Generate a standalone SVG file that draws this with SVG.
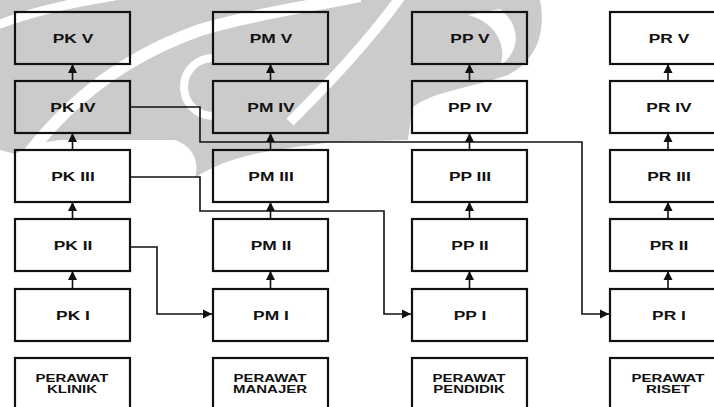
<svg xmlns="http://www.w3.org/2000/svg" width="714" height="407" viewBox="0 0 714 407">
<style>
.bx{fill:none;stroke:#111;stroke-width:2.2}
.t{font-family:"Liberation Sans",Arial,sans-serif;font-weight:bold;font-size:12px;fill:#111;text-anchor:middle}
.s{font-family:"Liberation Sans",Arial,sans-serif;font-weight:bold;font-size:10px;fill:#111;text-anchor:middle}
.ln{fill:none;stroke:#111;stroke-width:1.6}
.wm{fill:#cbcbcb}
.ww{fill:none;stroke:#fff}
</style>
<defs>
<marker id="ah" markerUnits="userSpaceOnUse" markerWidth="11" markerHeight="10" refX="9" refY="5" orient="auto">
<path d="M0,0.5 L9,5 L0,9.5 Z" fill="#111"/>
</marker>
</defs>
<rect width="714" height="407" fill="#fff"/>
<g id="watermark">
<path class="wm" d="M0,0 H540 C546,30 538,60 508,75 C470,88 430,92 412,108 L408,140 L330,142 C300,148 235,150 195,178 C200,160 192,146 175,140 L60,140 C40,142 25,148 15,154 L0,150 Z"/>
<path class="ww" stroke-width="9" d="M-5,26 C30,12 70,3 115,-4"/>
<path class="ww" stroke-width="12" d="M22,162 C60,112 110,62 200,30 C260,12 320,5 360,-4"/>
<path class="ww" stroke-width="8" d="M214,58 A29,29 0 0 0 212,116"/>
<path class="ww" stroke-width="10" d="M290,122 C330,82 368,42 402,-5"/>
<path fill="#fff" d="M468,15 C495,22 508,45 500,66 C522,50 520,24 500,9 Z"/>
</g>
<g id="connectors">
<line class="ln" x1="72.5" y1="81" x2="72.5" y2="64" marker-end="url(#ah)"/>
<line class="ln" x1="72.5" y1="150" x2="72.5" y2="133" marker-end="url(#ah)"/>
<line class="ln" x1="72.5" y1="219" x2="72.5" y2="202" marker-end="url(#ah)"/>
<line class="ln" x1="72.5" y1="289" x2="72.5" y2="271" marker-end="url(#ah)"/>
<line class="ln" x1="270.5" y1="81" x2="270.5" y2="64" marker-end="url(#ah)"/>
<line class="ln" x1="270.5" y1="150" x2="270.5" y2="133" marker-end="url(#ah)"/>
<line class="ln" x1="270.5" y1="219" x2="270.5" y2="202" marker-end="url(#ah)"/>
<line class="ln" x1="270.5" y1="289" x2="270.5" y2="271" marker-end="url(#ah)"/>
<line class="ln" x1="469.5" y1="81" x2="469.5" y2="64" marker-end="url(#ah)"/>
<line class="ln" x1="469.5" y1="150" x2="469.5" y2="133" marker-end="url(#ah)"/>
<line class="ln" x1="469.5" y1="219" x2="469.5" y2="202" marker-end="url(#ah)"/>
<line class="ln" x1="469.5" y1="289" x2="469.5" y2="271" marker-end="url(#ah)"/>
<line class="ln" x1="668" y1="81" x2="668" y2="64" marker-end="url(#ah)"/>
<line class="ln" x1="668" y1="150" x2="668" y2="133" marker-end="url(#ah)"/>
<line class="ln" x1="668" y1="219" x2="668" y2="202" marker-end="url(#ah)"/>
<line class="ln" x1="668" y1="289" x2="668" y2="271" marker-end="url(#ah)"/>
<path class="ln" d="M130,107 H200 V142 H582 V314 H609" marker-end="url(#ah)"/>
<path class="ln" d="M130,177 H200 V211 H384 V314 H411" marker-end="url(#ah)"/>
<path class="ln" d="M130,247 H157 V314 H212" marker-end="url(#ah)"/>
</g>
<g id="pk5"><rect class="bx" x="15" y="12" width="115" height="52"/><text class="t" transform="translate(73,43) scale(1.45,1)">PK V</text></g>
<g id="pk4"><rect class="bx" x="15" y="81" width="115" height="52"/><text class="t" transform="translate(73,112) scale(1.45,1)">PK IV</text></g>
<g id="pk3"><rect class="bx" x="15" y="150" width="115" height="52"/><text class="t" transform="translate(73,181) scale(1.45,1)">PK III</text></g>
<g id="pk2"><rect class="bx" x="15" y="219" width="115" height="52"/><text class="t" transform="translate(73,250) scale(1.45,1)">PK II</text></g>
<g id="pk1"><rect class="bx" x="15" y="289" width="115" height="52"/><text class="t" transform="translate(73,320) scale(1.45,1)">PK I</text></g>
<g id="pk0"><rect class="bx" x="15" y="358" width="115" height="60"/><text class="s" transform="translate(72,382) scale(1.5,1)">PERAWAT</text><text class="s" transform="translate(72,393) scale(1.5,1)">KLINIK</text></g>
<g id="pm5"><rect class="bx" x="213" y="12" width="115" height="52"/><text class="t" transform="translate(271,43) scale(1.45,1)">PM V</text></g>
<g id="pm4"><rect class="bx" x="213" y="81" width="115" height="52"/><text class="t" transform="translate(271,112) scale(1.45,1)">PM IV</text></g>
<g id="pm3"><rect class="bx" x="213" y="150" width="115" height="52"/><text class="t" transform="translate(271,181) scale(1.45,1)">PM III</text></g>
<g id="pm2"><rect class="bx" x="213" y="219" width="115" height="52"/><text class="t" transform="translate(271,250) scale(1.45,1)">PM II</text></g>
<g id="pm1"><rect class="bx" x="213" y="289" width="115" height="52"/><text class="t" transform="translate(271,320) scale(1.45,1)">PM I</text></g>
<g id="pm0"><rect class="bx" x="213" y="358" width="115" height="60"/><text class="s" transform="translate(270,382) scale(1.5,1)">PERAWAT</text><text class="s" transform="translate(270,393) scale(1.5,1)">MANAJER</text></g>
<g id="pp5"><rect class="bx" x="412" y="12" width="115" height="52"/><text class="t" transform="translate(470,43) scale(1.45,1)">PP V</text></g>
<g id="pp4"><rect class="bx" x="412" y="81" width="115" height="52"/><text class="t" transform="translate(470,112) scale(1.45,1)">PP IV</text></g>
<g id="pp3"><rect class="bx" x="412" y="150" width="115" height="52"/><text class="t" transform="translate(470,181) scale(1.45,1)">PP III</text></g>
<g id="pp2"><rect class="bx" x="412" y="219" width="115" height="52"/><text class="t" transform="translate(470,250) scale(1.45,1)">PP II</text></g>
<g id="pp1"><rect class="bx" x="412" y="289" width="115" height="52"/><text class="t" transform="translate(470,320) scale(1.45,1)">PP I</text></g>
<g id="pp0"><rect class="bx" x="412" y="358" width="115" height="60"/><text class="s" transform="translate(469,382) scale(1.5,1)">PERAWAT</text><text class="s" transform="translate(469,393) scale(1.5,1)">PENDIDIK</text></g>
<g id="pr5"><rect class="bx" x="610" y="12" width="116" height="52"/><text class="t" transform="translate(669,43) scale(1.45,1)">PR V</text></g>
<g id="pr4"><rect class="bx" x="610" y="81" width="116" height="52"/><text class="t" transform="translate(669,112) scale(1.45,1)">PR IV</text></g>
<g id="pr3"><rect class="bx" x="610" y="150" width="116" height="52"/><text class="t" transform="translate(669,181) scale(1.45,1)">PR III</text></g>
<g id="pr2"><rect class="bx" x="610" y="219" width="116" height="52"/><text class="t" transform="translate(669,250) scale(1.45,1)">PR II</text></g>
<g id="pr1"><rect class="bx" x="610" y="289" width="116" height="52"/><text class="t" transform="translate(669,320) scale(1.45,1)">PR I</text></g>
<g id="pr0"><rect class="bx" x="610" y="358" width="116" height="60"/><text class="s" transform="translate(668,382) scale(1.5,1)">PERAWAT</text><text class="s" transform="translate(668,393) scale(1.5,1)">RISET</text></g>
</svg>
